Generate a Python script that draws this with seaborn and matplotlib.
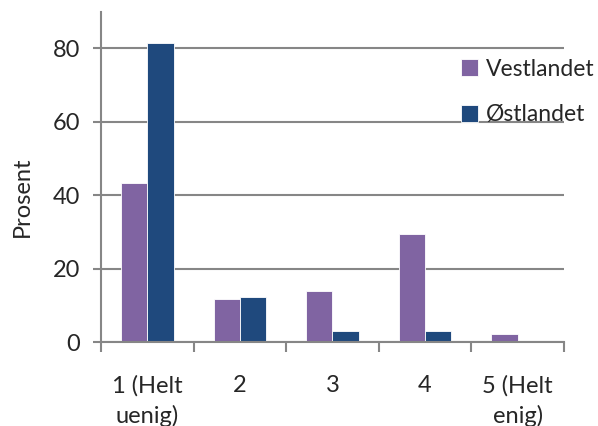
import matplotlib
matplotlib.use("Agg")
import matplotlib.pyplot as plt
import seaborn as sns
import pandas as pd
from matplotlib.ticker import FixedLocator, MultipleLocator

categories = ["1 (Helt\nuenig)", "2", "3", "4", "5 (Helt\nenig)"]
regions = ["Vestlandet", "Østlandet"]
vestlandet = [43.3, 11.7, 14.0, 29.4, 2.1]
ostlandet = [81.4, 12.2, 3.0, 3.0, 0.0]
palette = ["#8064A2", "#1F497D"]

df = pd.DataFrame({
    "Svar": categories * 2,
    "Region": [regions[0]] * len(categories) + [regions[1]] * len(categories),
    "Prosent": vestlandet + ostlandet,
})

sns.set_style("white")
plt.rcParams["font.family"] = ["Lato", "DejaVu Sans"]

fig = plt.figure(figsize=(5.98, 4.26), dpi=100)
ax = fig.add_axes([0.169, 0.197, 0.774, 0.776])

sns.barplot(data=df, x="Svar", y="Prosent", hue="Region", order=categories,
            hue_order=regions, palette=palette, width=0.57, ax=ax,
            edgecolor="white", linewidth=0.6, saturation=1, errorbar=None)

grid_c = "#868686"
ax.set_ylim(0, 90)
ax.set_xlim(-0.5, len(categories) - 0.5)
ax.yaxis.set_major_locator(MultipleLocator(20))
ax.yaxis.grid(True, color=grid_c, linewidth=1.5)
ax.set_axisbelow(True)

for s in ["top", "right"]:
    ax.spines[s].set_visible(False)
for s in ["left", "bottom"]:
    ax.spines[s].set_color(grid_c)
    ax.spines[s].set_linewidth(1.5)

ax.tick_params(axis="y", which="major", length=6, width=1.5, color=grid_c,
               labelsize=17, pad=9, left=True)
ax.tick_params(axis="x", which="major", length=0, labelsize=17, pad=24)
ax.xaxis.set_minor_locator(FixedLocator([i - 0.5 for i in range(len(categories) + 1)]))
ax.tick_params(axis="x", which="minor", length=7, width=1.5, color=grid_c, bottom=True)
for lab in ax.get_xticklabels():
    lab.set_linespacing(1.45)

ax.set_xlabel("")
ax.set_ylabel("Prosent", fontsize=17)
ax.yaxis.set_label_coords(-0.148, 0.44)

handles, labels = ax.get_legend_handles_labels()
ax.legend(handles, labels, loc="upper left", bbox_to_anchor=(0.757, 0.885),
          frameon=False, fontsize=16.5, handlelength=0.75, handleheight=0.75,
          handletextpad=0.35, labelspacing=1.07, borderaxespad=0)

fig.savefig("out.png", dpi=100)
